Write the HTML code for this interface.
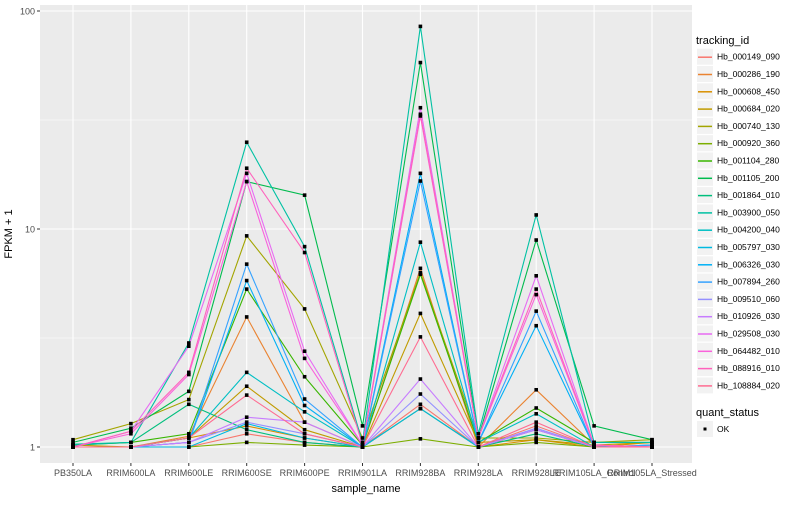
<!DOCTYPE html>
<html><head><meta charset="utf-8"><style>
body{margin:0;background:#fff;font-family:"Liberation Sans",sans-serif}
svg text{font-family:"Liberation Sans",sans-serif}
</style></head><body>
<svg id="chart" width="800" height="500" xmlns="http://www.w3.org/2000/svg">
<rect x="0" y="0" width="800" height="500" fill="#fff"/>
<rect id="panel" x="40" y="5" width="652" height="458" fill="#EBEBEB"/>
<g id="grid"></g><g id="lines"></g><g id="points"></g><g id="axes"></g><g id="legend"></g>
<text x="12" y="234" transform="rotate(-90 12 234)" text-anchor="middle" font-size="11" fill="#000">FPKM + 1</text>
<text x="366" y="492" text-anchor="middle" font-size="11" fill="#000">sample_name</text>
</svg>
<script>
const categories=["PB350LA","RRIM600LA","RRIM600LE","RRIM600SE","RRIM600PE","RRIM901LA","RRIM928BA","RRIM928LA","RRIM928LE","RRIM105LA_Control","RRIM105LA_Stressed"];
const seriesNames=["Hb_000149_090","Hb_000286_190","Hb_000608_450","Hb_000684_020","Hb_000740_130","Hb_000920_360","Hb_001104_280","Hb_001105_200","Hb_001864_010","Hb_003900_050","Hb_004200_040","Hb_005797_030","Hb_006326_030","Hb_007894_260","Hb_009510_060","Hb_010926_030","Hb_029508_030","Hb_064482_010","Hb_088916_010","Hb_108884_020"];
const colors=["#F8766D","#EA8331","#D89000","#C09B00","#A3A500","#7CAE00","#39B600","#00BB4E","#00BF7D","#00C1A3","#00BFC4","#00BAE0","#00B0F6","#35A2FF","#9590FF","#C77CFF","#E76BF3","#FA62DB","#FF62BC","#FF6C91"];
const s00=[1.0,1.0,1.0,1.15,1.05,1.0,1.57,1.0,1.25,1.0,1.02];
const s01=[1.0,1.0,1.12,3.95,1.3,1.0,6.6,1.0,1.83,1.02,1.0];
const s02=[1.0,1.0,1.1,1.25,1.1,1.0,1.5,1.0,1.08,1.0,1.05];
const s03=[1.02,1.0,1.1,1.9,1.2,1.0,4.1,1.05,1.08,1.02,1.05];
const s04=[1.08,1.28,1.65,9.3,4.3,1.1,6.3,1.1,1.1,1.05,1.08];
const s05=[1.0,1.0,1.0,1.05,1.02,1.0,1.09,1.0,1.05,1.0,1.0];
const s06=[1.02,1.05,1.15,5.3,2.1,1.02,6.2,1.05,1.51,1.05,1.05];
const s07=[1.05,1.22,1.8,16.5,14.3,1.25,58,1.1,8.9,1.25,1.08];
const s08=[1.02,1.05,1.57,1.2,1.05,1.0,1.5,1.0,1.15,1.0,1.0];
const s09=[1.03,1.05,3.0,25,8.3,1.05,85,1.15,11.6,1.05,1.05];
const s10=[1.0,1.0,1.1,2.2,1.45,1.0,8.7,1.05,1.42,1.0,1.0];
const s11=[1.0,1.0,1.0,1.28,1.1,1.0,1.5,1.0,1.2,1.0,1.0];
const s12=[1.0,1.0,1.05,5.8,1.55,1.0,18,1.05,3.6,1.0,1.02];
const s13=[1.0,1.0,1.05,6.9,1.66,1.0,16.6,1.05,4.2,1.0,1.02];
const s14=[1.0,1.0,1.05,1.3,1.15,1.0,1.75,1.0,1.22,1.0,1.0];
const s15=[1.0,1.0,1.05,1.37,1.3,1.0,2.05,1.0,1.2,1.0,1.0];
const s16=[1.0,1.18,2.9,18,2.75,1.02,36,1.1,6.1,1.02,1.0];
const s17=[1.0,1.15,2.15,16.5,2.55,1.02,33,1.1,5.0,1.02,1.0];
const s18=[1.0,1.18,2.2,19,7.8,1.02,33.6,1.1,5.3,1.02,1.0];
const s19=[1.0,1.0,1.1,1.73,1.15,1.0,3.2,1.0,1.3,1.0,1.0];
const seriesValues=[s00,s01,s02,s03,s04,s05,s06,s07,s08,s09,s10,s11,s12,s13,s14,s15,s16,s17,s18,s19];
const yTicks=[1,10,100];
const yTickLabels=["1","10","100"];
const yMinor=[3.162,31.62];
const NS="http://www.w3.org/2000/svg";
function xPos(i){return 73+i*57.9;}
function yPos(v){return 447-218*Math.log10(v);}
function mk(tag,attrs,parent){const e=document.createElementNS(NS,tag);for(const k in attrs)e.setAttribute(k,attrs[k]);parent.appendChild(e);return e;}
const grid=document.getElementById('grid'),lines=document.getElementById('lines'),pts=document.getElementById('points'),axes=document.getElementById('axes'),leg=document.getElementById('legend');
yMinor.forEach(v=>{const l=mk('line',{x1:40,x2:692,y1:yPos(v),y2:yPos(v),stroke:'#fff','stroke-width':0.5},grid);

});
yTicks.forEach((v,i)=>{const l=mk('line',{x1:40,x2:692,y1:yPos(v),y2:yPos(v),stroke:'#fff','stroke-width':1.1},grid);


const t=mk('text',{x:35,y:yPos(v)+3.5,'text-anchor':'end','font-size':9,fill:'#4D4D4D'},axes);t.textContent=yTickLabels[i];


mk('line',{x1:37,x2:40,y1:yPos(v),y2:yPos(v),stroke:'#333'},axes);});
categories.forEach((c,i)=>{const l=mk('line',{x1:xPos(i),x2:xPos(i),y1:5,y2:463,stroke:'#fff','stroke-width':1.1},grid);


mk('line',{x1:xPos(i),x2:xPos(i),y1:463,y2:466,stroke:'#333'},axes);
const t=mk('text',{x:xPos(i),y:476,'text-anchor':'middle','font-size':9,fill:'#4D4D4D'},axes);t.textContent=c;

});
seriesValues.forEach((vals,s)=>{const d=vals.map((v,i)=>(i?'L':'M')+xPos(i).toFixed(1)+','+yPos(v).toFixed(1)).join(' ');
const p=mk('path',{d:d,fill:'none',stroke:colors[s],'stroke-width':1.1},lines);

});
seriesValues.forEach((vals,s)=>{vals.forEach((v,i)=>{const r=mk('rect',{x:xPos(i)-1.8,y:yPos(v)-1.8,width:3.6,height:3.6,fill:'#000'},pts);

});});
const tt=mk('text',{x:696,y:44,'font-size':11,fill:'#000'},leg);tt.textContent='tracking_id';


seriesNames.forEach((n,s)=>{const y=56.7+s*17.3;const g=mk('g',{},leg);


mk('rect',{x:697,y:y-8,width:16,height:16,fill:'#F2F2F2'},g);
mk('line',{x1:698,x2:712,y1:y+0.5,y2:y+0.5,stroke:colors[s],'stroke-width':1.5},g);
const t=mk('text',{x:717,y:y+3,'font-size':8.5,fill:'#000'},g);t.textContent=n;});
const qt=mk('text',{x:696,y:416,'font-size':11,fill:'#000'},leg);qt.textContent='quant_status';


const qg=mk('g',{},leg);


mk('rect',{x:697,y:421,width:16,height:16,fill:'#F2F2F2'},qg);
mk('rect',{x:703.5,y:427.5,width:3,height:3,fill:'#000'},qg);
const ok=mk('text',{x:717,y:432,'font-size':8.5,fill:'#000'},qg);ok.textContent='OK';
</script>
</body></html>
